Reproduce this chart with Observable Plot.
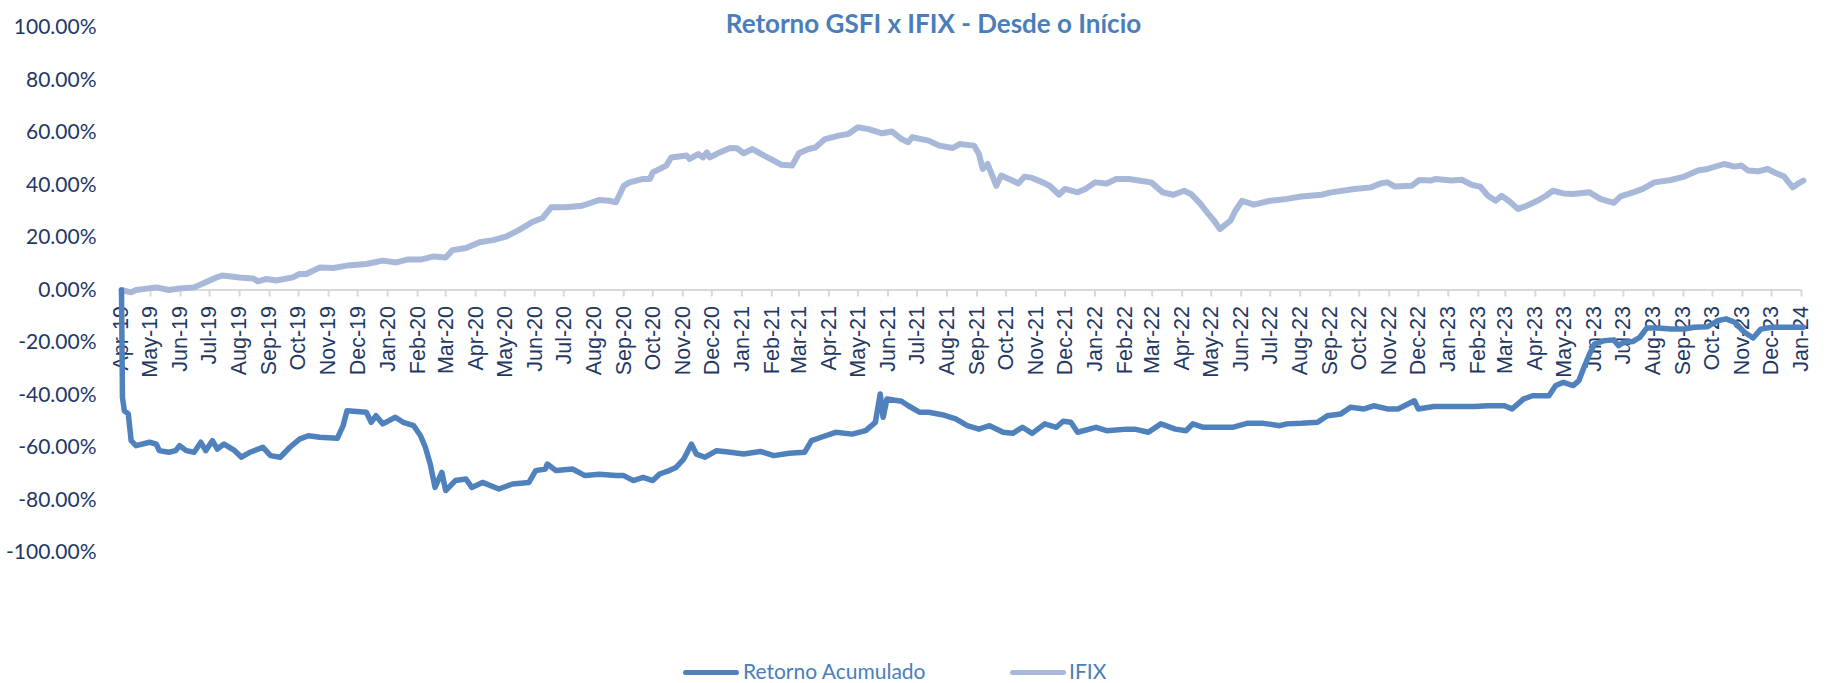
<!DOCTYPE html>
<html>
<head>
<meta charset="utf-8">
<script src="https://cdn.jsdelivr.net/npm/d3@7"></script>
<script src="https://cdn.jsdelivr.net/npm/@observablehq/plot@0.6"></script>
<style>
  html, body { margin: 0; padding: 0; background: #fff; }
  #wrap { position: relative; width: 1827px; height: 683px; overflow: hidden; background: #fff; }
  #wrap svg { position: absolute; left: 0; top: 0; }
  .title { position: absolute; top: 10px; left: 933.5px; transform: translateX(-50%); white-space: nowrap;
           font: bold 26px/26px Lato, sans-serif; color: #4a7ebb; }
  .leg { position: absolute; font: 21px/21px Lato, sans-serif; color: #4a7ebb; white-space: nowrap; }
  .sw { position: absolute; height: 5px; border-radius: 3px; }
</style>
</head>
<body>
<div id="wrap"></div>
<script>
// ---- data (percent) ----
const gsfiDates = ["2019-04-01","2019-04-02","2019-04-04","2019-04-08","2019-04-11","2019-04-16","2019-04-30","2019-05-07","2019-05-10","2019-05-20","2019-05-27","2019-05-31","2019-06-07","2019-06-15","2019-06-22","2019-06-27","2019-07-04","2019-07-09","2019-07-16","2019-07-27","2019-08-03","2019-08-12","2019-08-25","2019-09-02","2019-09-12","2019-09-22","2019-10-02","2019-10-11","2019-10-23","2019-11-10","2019-11-16","2019-11-20","2019-12-10","2019-12-15","2019-12-20","2019-12-27","2020-01-09","2020-01-17","2020-01-28","2020-02-04","2020-02-09","2020-02-14","2020-02-19","2020-02-26","2020-03-01","2020-03-11","2020-03-22","2020-03-28","2020-04-08","2020-04-25","2020-05-09","2020-05-26","2020-06-02","2020-06-12","2020-06-14","2020-06-23","2020-07-10","2020-07-23","2020-08-07","2020-08-24","2020-09-01","2020-09-11","2020-09-21","2020-10-01","2020-10-08","2020-10-18","2020-10-25","2020-11-02","2020-11-10","2020-11-15","2020-11-24","2020-12-06","2020-12-20","2021-01-03","2021-01-20","2021-02-03","2021-02-19","2021-03-07","2021-03-14","2021-03-24","2021-04-08","2021-04-25","2021-05-09","2021-05-19","2021-05-24","2021-05-27","2021-05-31","2021-06-15","2021-06-22","2021-07-04","2021-07-13","2021-07-27","2021-08-10","2021-08-22","2021-09-03","2021-09-14","2021-09-28","2021-10-08","2021-10-18","2021-10-28","2021-11-10","2021-11-22","2021-11-29","2021-12-07","2021-12-14","2022-01-02","2022-01-13","2022-02-03","2022-02-11","2022-02-25","2022-03-10","2022-03-25","2022-04-05","2022-04-12","2022-04-23","2022-05-23","2022-06-07","2022-06-24","2022-07-11","2022-07-18","2022-08-02","2022-08-19","2022-08-29","2022-09-12","2022-09-22","2022-10-06","2022-10-16","2022-10-30","2022-11-10","2022-11-27","2022-12-01","2022-12-17","2023-01-07","2023-01-28","2023-02-11","2023-02-28","2023-03-08","2023-03-20","2023-03-29","2023-04-15","2023-04-22","2023-04-30","2023-05-10","2023-05-16","2023-05-22","2023-05-27","2023-06-01","2023-06-11","2023-06-21","2023-06-26","2023-07-01","2023-07-11","2023-07-18","2023-07-25","2023-08-05","2023-08-19","2023-09-02","2023-09-12","2023-09-26","2023-10-06","2023-10-15","2023-10-24","2023-11-03","2023-11-12","2023-11-20","2023-12-01","2023-12-18","2024-01-03"];
const gsfiValues = [0,-41,-46,-47.2,-57.4,-59.3,-58,-58.7,-61.2,-61.8,-61.2,-59.3,-61.2,-61.8,-58,-61.2,-57.4,-60.6,-58.7,-61.2,-63.7,-61.8,-59.9,-63.1,-63.7,-59.9,-56.8,-55.5,-56.1,-56.5,-51.7,-46,-46.6,-50.4,-47.9,-51,-48.5,-50.4,-51.7,-55.5,-59.9,-66.3,-75.2,-69.5,-76.4,-72.6,-72,-75.2,-73.3,-75.8,-73.9,-73.3,-68.8,-68.2,-66.3,-68.8,-68.2,-70.7,-70.2,-70.7,-70.7,-72.6,-71.4,-72.6,-70.1,-68.8,-67.6,-64.4,-58.7,-62.5,-63.7,-61.2,-61.8,-62.5,-61.5,-63.1,-62.2,-61.8,-57.4,-56.1,-54.2,-54.9,-53.6,-50.4,-39.6,-48.5,-41.5,-42.4,-44.1,-46.6,-46.6,-47.5,-49.1,-51.7,-53,-51.7,-54.2,-54.6,-52.3,-54.6,-51,-52.3,-50,-50.4,-54.2,-52.3,-53.6,-53,-53,-54.2,-51,-53,-53.6,-51,-52.3,-52.3,-50.8,-50.8,-51.7,-51,-50.8,-50.4,-47.9,-47.2,-44.7,-45.3,-44.1,-45.3,-45.3,-42.2,-45.3,-44.4,-44.4,-44.4,-44.1,-44.1,-45.3,-41.5,-40.3,-40.3,-36.4,-35.2,-36.4,-34.5,-28.8,-24.4,-20.6,-19.3,-19,-21.2,-19.9,-19.6,-18,-14.5,-14.5,-14.9,-14.9,-14.2,-14,-11.7,-11,-12.3,-16.1,-18.3,-14.9,-14.2,-14.2,-14.2];

const ifixDates = ["2019-04-01","2019-04-11","2019-04-16","2019-05-07","2019-05-20","2019-05-31","2019-06-15","2019-06-23","2019-07-08","2019-07-14","2019-08-01","2019-08-15","2019-08-20","2019-08-29","2019-09-08","2019-09-25","2019-10-02","2019-10-09","2019-10-23","2019-11-06","2019-11-20","2019-12-10","2019-12-27","2020-01-10","2020-01-21","2020-02-04","2020-02-18","2020-03-01","2020-03-08","2020-03-22","2020-04-05","2020-04-19","2020-05-02","2020-05-16","2020-05-29","2020-06-09","2020-06-18","2020-07-03","2020-07-20","2020-08-07","2020-08-17","2020-08-24","2020-08-28","2020-09-01","2020-09-07","2020-09-21","2020-09-28","2020-10-01","2020-10-15","2020-10-20","2020-11-05","2020-11-08","2020-11-17","2020-11-22","2020-11-26","2020-11-29","2020-12-09","2020-12-20","2020-12-27","2021-01-03","2021-01-12","2021-01-24","2021-02-03","2021-02-11","2021-02-22","2021-03-01","2021-03-11","2021-03-18","2021-03-28","2021-04-11","2021-04-21","2021-05-01","2021-05-12","2021-05-26","2021-06-05","2021-06-15","2021-06-22","2021-06-26","2021-07-13","2021-07-24","2021-08-07","2021-08-14","2021-08-29","2021-09-03","2021-09-07","2021-09-12","2021-09-21","2021-09-26","2021-10-04","2021-10-14","2021-10-20","2021-10-28","2021-11-08","2021-11-15","2021-11-25","2021-12-01","2021-12-14","2021-12-22","2022-01-01","2022-01-13","2022-01-23","2022-02-05","2022-02-15","2022-02-28","2022-03-12","2022-03-23","2022-04-03","2022-04-10","2022-04-20","2022-04-28","2022-05-04","2022-05-10","2022-05-21","2022-05-26","2022-06-02","2022-06-14","2022-07-01","2022-07-18","2022-08-02","2022-08-23","2022-09-02","2022-09-26","2022-10-13","2022-10-23","2022-10-30","2022-11-07","2022-11-24","2022-12-02","2022-12-14","2022-12-19","2023-01-04","2023-01-15","2023-01-25","2023-02-03","2023-02-11","2023-02-19","2023-02-25","2023-03-05","2023-03-14","2023-03-23","2023-04-02","2023-04-12","2023-04-19","2023-04-30","2023-05-10","2023-05-27","2023-06-07","2023-06-21","2023-06-28","2023-07-11","2023-07-21","2023-08-02","2023-08-19","2023-09-02","2023-09-16","2023-09-26","2023-10-13","2023-10-24","2023-10-31","2023-11-07","2023-11-17","2023-11-27","2023-12-04","2023-12-14","2023-12-23","2023-12-28","2024-01-03"];
const ifixValues = [0,-0.9,0,1,0,0.6,1,2.3,4.8,5.5,4.8,4.4,3.3,4.2,3.6,4.8,6.1,6.1,8.6,8.4,9.3,9.9,11.2,10.5,11.6,11.6,12.8,12.4,15.2,16,18.2,19,20.3,22.9,25.8,27.4,31.5,31.5,32.1,34.3,34,33.4,36.6,39.7,41,42.3,42.3,44.8,47.4,50.5,51.2,49.9,51.8,50.5,52.4,50.5,52.4,54.1,54,52.1,53.7,51.2,49.3,47.7,47.4,52.1,53.7,54.3,57.5,58.8,59.4,62,61.3,59.7,60.4,57.5,56.3,58.2,56.9,55,54.1,55.6,55,51.8,46.1,48,39.7,43.6,42.3,40.6,43.2,42.7,41,39.7,36.3,38.5,37.2,38.5,41,40.6,42.3,42.3,41.7,41,37.2,36.3,37.8,36.6,32.8,29,26.4,23.2,26.4,30.2,34,32.5,34,34.7,35.6,36.3,37.2,38.5,39.1,40.6,41,39.4,39.7,41.9,41.7,42.3,41.7,42,40.1,39.4,35.9,34,35.9,33.8,30.9,32.1,33.8,35.9,37.8,36.8,36.6,37.2,34.7,33.2,35.7,37.2,38.5,41,41.9,43.2,45.5,46.1,48,47,47.4,45.5,45.2,46.1,44.8,43.2,39.1,40.4,41.7];

const yTicks = [100, 80, 60, 40, 20, 0, -20, -40, -60, -80, -100];
const xStart = "2019-04-01", xEnd = "2024-01-01";
const seriesNames = ["Retorno Acumulado", "IFIX"];
const titleText = "Retorno GSFI x IFIX - Desde o Início";

// ---- build ----
const parse = d3.utcParse("%Y-%m-%d");
const gsfi = gsfiDates.map((d, i) => ({date: parse(d), v: gsfiValues[i]}));
const ifix = ifixDates.map((d, i) => ({date: parse(d), v: ifixValues[i]}));
const months = d3.utcMonth.range(parse(xStart), d3.utcDay.offset(parse(xEnd), 1));
const fmtMonth = d3.utcFormat("%b-%y");

const C_GSFI = "#4f81bd", C_IFIX = "#a8b8d9", C_TXT = "#1f3864", C_AX = "#d9d9d9";

const chart = Plot.plot({
  width: 1827, height: 683,
  marginLeft: 121, marginRight: 26, marginTop: 27, marginBottom: 131,
  x: {type: "utc", domain: [parse(xStart), parse(xEnd)], axis: null},
  y: {domain: [-100, 100], axis: null},
  marks: [
    Plot.axisY({ticks: yTicks, label: null, tickSize: 0, tickPadding: 25, tickFormat: d => d.toFixed(2) + "%",
      fontSize: 21, fontFamily: "Lato, sans-serif", fill: C_TXT}),
    Plot.ruleY([0], {stroke: C_AX, strokeWidth: 2}),
    Plot.ruleX(months, {x: d => d, y1: 0, y2: 0, insetBottom: -7, stroke: C_AX, strokeWidth: 2}),
    Plot.text(months, {x: d => d, y: 0, text: d => fmtMonth(d), rotate: -90, textAnchor: "end",
      dy: 16, fontSize: 21.5, fontFamily: "'Liberation Sans', Arial, sans-serif", fill: C_TXT}),
    Plot.line(ifix, {x: "date", y: "v", stroke: C_IFIX, strokeWidth: 6, strokeLinejoin: "round"}),
    Plot.line(gsfi, {x: "date", y: "v", stroke: C_GSFI, strokeWidth: 5.5, strokeLinejoin: "round"})
  ]
});

const wrap = document.getElementById("wrap");
wrap.appendChild(chart);

const t = document.createElement("div");
t.className = "title"; t.textContent = titleText; wrap.appendChild(t);

function legendItem(x1, x2, tx, color, label) {
  const s = document.createElement("div");
  s.className = "sw";
  s.style.left = x1 + "px"; s.style.width = (x2 - x1) + "px"; s.style.top = "670px"; s.style.background = color;
  wrap.appendChild(s);
  const l = document.createElement("div");
  l.className = "leg"; l.style.left = tx + "px"; l.style.top = "660px"; l.textContent = label;
  wrap.appendChild(l);
}
legendItem(683, 739, 743, C_GSFI, seriesNames[0]);
legendItem(1010, 1066, 1069, C_IFIX, seriesNames[1]);
</script>
</body>
</html>
